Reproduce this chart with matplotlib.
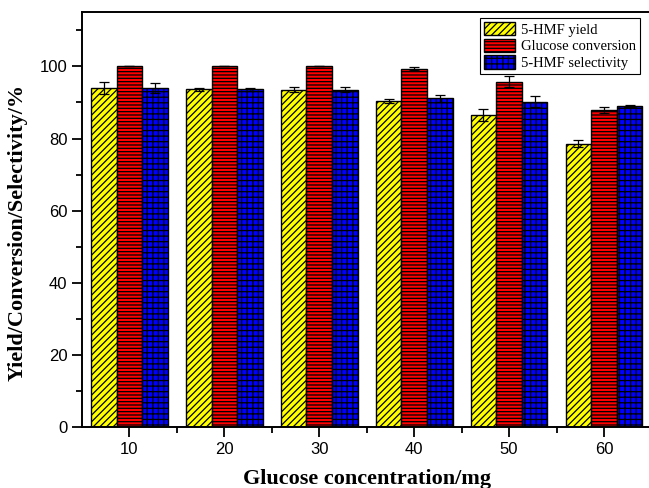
import matplotlib
import matplotlib.pyplot as plt
import numpy as np

matplotlib.use('Agg')

conc = [10, 20, 30, 40, 50, 60]
hmf_yield = [94.0, 93.6, 93.5, 90.4, 86.6, 78.6]
hmf_yield_err = [1.6, 0.3, 0.7, 0.6, 1.7, 0.9]
glc_conv = [100.0, 100.0, 100.0, 99.4, 95.8, 88.0]
glc_conv_err = [0.0, 0.0, 0.0, 0.3, 1.5, 0.8]
hmf_sel = [94.0, 93.6, 93.5, 91.1, 90.2, 89.1]
hmf_sel_err = [1.5, 0.3, 0.7, 1.0, 1.5, 0.3]

plt.rcParams['hatch.linewidth'] = 0.9
plt.rcParams['font.family'] = 'Liberation Sans'

fig = plt.figure(figsize=(6.49, 4.88), dpi=100)
ax = fig.add_axes([82 / 649, 1 - 427 / 488, 569.4 / 649, 414.7 / 488])

x = np.array(conc)
w = 2.7
err_kw = dict(ecolor='black', elinewidth=0.9, capsize=3.5, capthick=0.9)
ax.bar(x - w, hmf_yield, w, yerr=hmf_yield_err, color='#ffff00', edgecolor='black',
       hatch='/////', linewidth=1.0, label='5-HMF yield', error_kw=err_kw)
ax.bar(x, glc_conv, w, yerr=glc_conv_err, color='#ff0000', edgecolor='black',
       hatch='-----', linewidth=1.0, label='Glucose conversion', error_kw=err_kw)
ax.bar(x + w, hmf_sel, w, yerr=hmf_sel_err, color='#0000ff', edgecolor='black',
       hatch='+++', linewidth=1.0, label='5-HMF selectivity', error_kw=err_kw)

ax.set_xlim(5, 65)
ax.set_ylim(0, 115)
ax.set_xticks(conc)
ax.set_xticks([15, 25, 35, 45, 55], minor=True)
ax.set_yticks([0, 20, 40, 60, 80, 100])
ax.set_yticks([10, 30, 50, 70, 90, 110], minor=True)
ax.tick_params(which='major', direction='out', length=7, width=1.3, labelsize=12)
ax.tick_params(which='minor', direction='out', length=4.5, width=1.3)
ax.tick_params(top=False, right=False, which='both')
for s in ax.spines.values():
    s.set_linewidth(1.4)

ax.set_xlabel('Glucose concentration/mg', fontsize=16, fontweight='bold',
              family='Liberation Serif', labelpad=9)
ax.set_ylabel('Yield/Conversion/Selectivity/%', fontsize=16, fontweight='bold',
              family='Liberation Serif')
ax.yaxis.set_label_coords(-0.095, 0.468)

leg = ax.legend(loc='upper right', bbox_to_anchor=(0.98, 0.987), borderaxespad=0,
                fancybox=False, edgecolor='black', framealpha=1, borderpad=0.3,
                labelspacing=0.15, handlelength=2.1, handleheight=1.0, handletextpad=0.4,
                prop={'family': 'Liberation Serif', 'size': 10.5})
leg.get_frame().set_linewidth(0.8)

plt.savefig('out.png', dpi=100)
